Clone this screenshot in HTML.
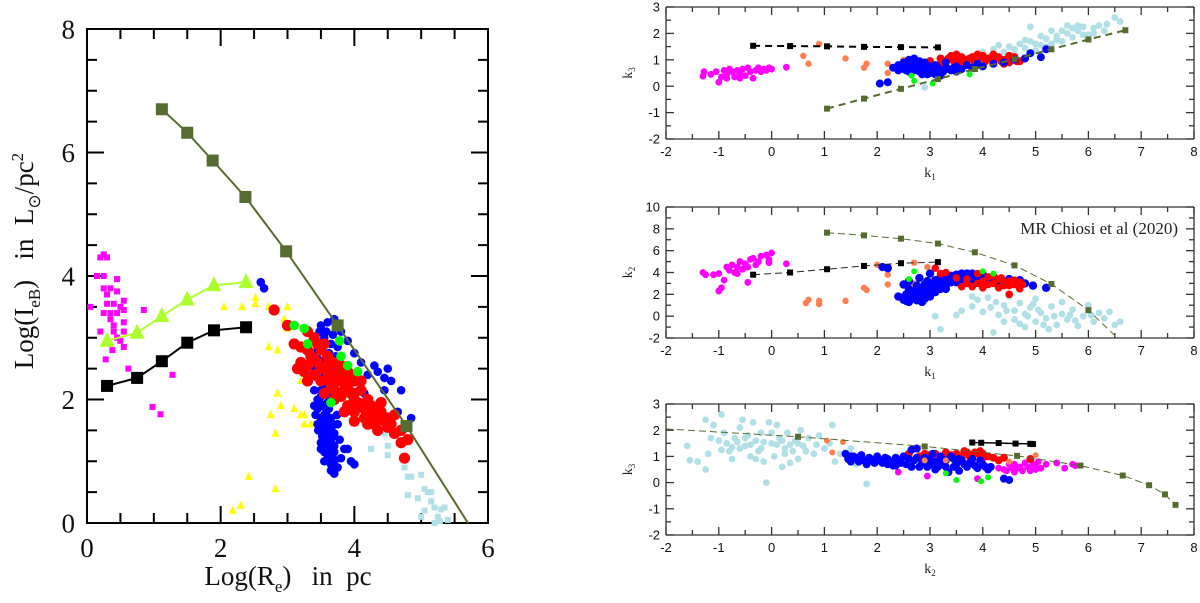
<!DOCTYPE html>
<html><head><meta charset="utf-8">
<style>
html,body{margin:0;padding:0;background:#fff;}
svg{display:block;}
text{white-space:pre;}
</style></head>
<body>
<svg id="chart" width="1200" height="603" viewBox="0 0 1200 603" xmlns="http://www.w3.org/2000/svg">
  <rect x="87" y="29" width="401" height="494" fill="none" stroke="#000" stroke-width="2"/>
  <g id="left"></g>
  <g id="p1"></g>
  <g id="p2"></g>
  <g id="p3"></g>
</svg>
<script>
// ===== Left panel data (Log Re, Log IeB) =====
const L_olive = [[1.12,6.7],[1.5,6.32],[1.88,5.87],[2.37,5.28],[2.98,4.4],[3.75,3.2],[4.78,1.57]];
const L_oliveEnd = [5.7,0];
const L_tri = [[0.3,2.95],[0.75,3.08],[1.12,3.35],[1.5,3.62],[1.9,3.85],[2.38,3.9]];
const L_black = [[0.3,2.22],[0.75,2.35],[1.12,2.62],[1.5,2.92],[1.9,3.12],[2.38,3.17]];
const L_magenta = [[0.05,3.5],[0.2,4.3],[0.25,4.35],[0.3,4.3],[0.15,4.0],[0.25,4.0],[0.25,3.8],[0.3,3.7],[0.35,3.8],[0.45,3.95],[0.3,3.55],[0.4,3.55],[0.5,3.5],[0.55,3.6],[0.45,3.75],[0.25,3.4],[0.35,3.4],[0.45,3.4],[0.55,3.45],[0.35,3.3],[0.4,3.2],[0.55,3.25],[0.4,3.1],[0.55,3.1],[0.2,3.1],[0.45,3.0],[0.5,2.95],[0.55,2.85],[0.38,2.8],[0.28,2.65],[0.85,3.45],[0.62,2.5],[0.75,2.3],[1.28,2.4],[0.98,1.88],[1.1,1.76]];
const L_yellow = [[2.05,3.5],[2.32,3.5],[2.52,3.65],[2.52,3.55],[2.72,3.5],[3.0,3.5],[2.95,3.3],[3.0,3.15],[2.72,2.85],[2.85,2.8],[3.2,2.5],[3.2,2.3],[2.85,2.1],[2.9,1.9],[2.75,1.75],[3.1,1.85],[3.2,1.75],[3.25,1.75],[3.25,1.6],[3.35,1.6],[2.82,1.45],[2.42,0.75],[2.82,0.55],[2.18,0.2],[2.3,0.28]];
const L_blue = [[3.5,3.2],[3.6,3.25],[3.7,3.3],[3.55,3.0],[3.65,2.9],[3.45,2.8],[3.75,2.85],[3.5,2.6],[3.6,2.55],[3.7,2.5],[3.45,2.35],[3.55,2.2],[3.65,2.25],[3.5,2.05],[3.6,1.95],[3.45,1.85],[3.55,1.75],[3.65,1.7],[3.5,1.55],[3.6,1.5],[3.7,1.45],[3.55,1.35],[3.65,1.3],[3.5,1.2],[3.6,1.1],[3.7,1.15],[3.55,1.0],[3.65,0.95],[3.75,0.9],[3.7,0.8],[3.85,1.2],[3.45,1.6],[3.4,1.9],[3.62,1.85],[3.52,1.4],[3.58,1.22],[3.48,2.5],[3.4,2.15],[3.58,1.62],[3.68,1.05],[3.52,1.9],[3.62,1.4],[2.6,3.9],[2.65,3.8],[4.15,2.1],[4.3,2.55],[4.35,2.45],[4.5,2.5],[4.45,2.35],[4.55,2.3],[4.45,2.15],[4.7,2.15],[4.65,1.8],[4.85,1.7],[3.8,3.1],[3.9,2.95],[4.0,2.75],[4.1,2.6],[4.2,2.4],[3.9,1.2],[3.95,1.0],[4.0,0.95],
 [3.48,3.1],[3.58,3.1],[3.68,3.05],[3.52,2.9],[3.62,2.75],[3.72,2.7],[3.46,2.65],[3.56,2.4],[3.66,2.35],[3.5,2.15],[3.6,2.1],[3.7,2.05],[3.48,1.95],[3.58,1.8],[3.68,1.6],[3.5,1.7],[3.46,1.5],[3.56,1.45],[3.66,1.55],[3.5,1.3],[3.6,1.3],[3.7,1.25],[3.55,1.15],[3.63,1.18],[3.6,1.02],[3.7,1.0],[3.8,1.05],[3.65,0.85],[3.42,1.75],[3.45,2.0],[3.4,2.5],[3.75,1.6],[3.78,1.35],[3.54,1.58],[3.64,2.0],[3.56,2.62],[3.66,1.38],[3.74,1.75]];
const L_red = [[2.8,3.45],[3.0,3.2],[3.1,2.9],[3.2,2.85],[3.15,2.5],[3.3,3.1],[3.4,3.0],[3.35,2.7],[3.45,2.6],[3.5,2.8],[3.6,2.7],[3.4,2.4],[3.5,2.3],[3.6,2.45],[3.7,2.6],[3.8,2.55],[3.55,2.1],[3.65,2.2],[3.75,2.3],[3.85,2.35],[3.9,2.2],[3.7,2.0],[3.8,2.05],[4.0,2.3],[4.0,2.0],[4.1,2.15],[3.9,1.9],[4.0,1.8],[4.1,1.9],[4.2,2.0],[4.2,1.75],[4.3,1.85],[4.4,1.8],[4.3,1.6],[4.5,1.7],[4.6,1.75],[4.5,1.55],[4.2,1.6],[4.0,1.65],[3.85,1.8],[4.7,1.5],[4.7,1.3],[4.75,1.05],[4.8,1.35],[4.35,1.5],[3.6,2.55],[3.3,2.3],[3.2,2.6],[3.7,2.4],[3.95,2.4],[4.15,1.7],[4.4,1.95],[3.55,2.9],[3.25,2.45],
 [3.3,2.8],[3.45,2.9],[3.5,2.5],[3.6,2.35],[3.75,2.45],[3.85,2.15],[3.95,2.1],[4.05,1.95],[4.15,1.85],[4.25,1.9],[4.35,1.7],[4.45,1.65],[4.55,1.6],[4.6,1.45],[3.7,2.15],[3.9,2.45],[4.1,2.3],[3.4,2.65],[3.3,2.55],[3.8,2.3],[4.0,2.1],[4.25,1.7]];
const L_green = [[3.1,3.2],[3.25,3.15],[3.78,2.95],[3.8,2.7],[3.9,2.55],[4.05,2.45],[3.3,2.9],[3.65,1.95]];
const L_lblue = [[4.35,1.5],[4.45,1.45],[4.25,1.2],[4.5,1.25],[4.5,1.1],[4.75,0.9],[4.8,0.75],[4.85,0.75],[5.0,0.78],[5.05,0.55],[5.1,0.5],[5.15,0.5],[4.8,0.45],[4.95,0.4],[5.15,0.35],[5.2,0.25],[5.3,0.22],[5.35,0.25],[5.05,0.2],[5.25,0.1],[5.0,0.1],[5.4,0.05],[5.2,0.0],[5.28,0.03]];
const L_xticks = ["0","2","4","6"];
const L_yticks = ["0","2","4","6","8"];

// ===== Panel 1 (k1, k3) =====
const P1_black = [[-0.35,1.53],[0.35,1.52],[1.05,1.51],[1.75,1.49],[2.45,1.48],[3.15,1.47]];
const P1_olive = [[1.05,-0.85],[1.75,-0.47],[2.45,-0.1],[3.15,0.27],[3.85,0.65],[4.6,1.02],[5.3,1.4],[6.0,1.77],[6.7,2.12]];
const P1_magenta = [[-1.3,0.38],[-1.28,0.55],[-1.15,0.45],[-1.05,0.55],[-1.0,0.15],[-0.95,0.35],[-0.9,0.6],[-0.85,0.45],[-0.8,0.65],[-0.75,0.55],[-0.7,0.35],[-0.65,0.6],[-0.6,0.5],[-0.55,0.65],[-0.5,0.4],[-0.45,0.7],[-0.4,0.55],[-0.35,0.3],[-0.3,0.6],[-0.25,0.7],[-0.2,0.55],[-0.15,0.65],[-0.1,0.6],[-0.05,0.7],[0.0,0.65],[0.28,0.72],[-0.85,0.3],[-0.6,0.3]];
const P1_orange = [[0.9,1.6],[0.6,1.15],[0.7,0.85],[1.4,1.05],[1.75,0.7],[1.8,0.85],[2.2,0.5],[2.2,0.85],[2.5,1.0]];
const P1_blue = [[2.05,0.1],[2.2,0.15],[2.3,0.7],[2.4,0.8],[2.5,0.9],[2.6,1.0],[2.7,1.05],[2.5,0.65],[2.6,0.75],[2.7,0.85],[2.8,0.95],[2.9,0.9],[2.6,0.55],[2.7,0.6],[2.8,0.7],[2.9,0.65],[3.0,0.75],[3.0,0.5],[3.1,0.45],[3.2,0.6],[2.85,0.45],[3.1,0.8],[3.3,0.7],[3.4,0.6],[3.5,0.75],[3.6,0.65],[3.7,0.8],[3.8,0.7],[3.9,0.85],[4.0,0.75],[4.2,0.85],[4.4,0.9],[4.6,1.0],[4.8,1.05],[4.9,1.25],[5.1,1.1],[5.2,1.4],[3.3,0.9],[3.5,0.55],[3.2,0.4],[2.4,0.6],[2.9,0.55],[3.05,0.65],
 [2.45,0.75],[2.55,0.85],[2.65,0.9],[2.75,0.75],[2.85,0.8],[2.95,0.75],[3.05,0.55],[3.15,0.7],[2.7,0.7],[2.55,0.6],[3.25,0.55],[3.35,0.65],[2.8,0.55],[2.95,0.45],[3.45,0.7]];
const P1_red = [[3.0,0.95],[3.2,1.05],[3.3,0.95],[3.4,1.15],[3.5,1.0],[3.6,1.1],[3.7,0.95],[3.8,1.1],[3.9,1.0],[4.0,1.15],[4.1,1.05],[4.2,0.95],[4.3,1.1],[4.4,1.0],[4.5,0.9],[4.6,1.1],[4.7,0.95],[4.8,1.05],[3.5,1.2],[3.9,1.2],[4.2,1.2],[4.5,1.15],[3.2,0.85],[3.6,0.85],[4.4,0.85],
 [3.35,1.05],[3.45,0.95],[3.55,1.05],[3.75,1.05],[3.85,0.9],[3.95,1.1],[4.05,0.95],[4.25,1.05],[4.35,0.95],[4.55,1.0],[4.65,0.95],[3.65,1.0]];
const P1_lblue = [[2.9,-0.05],[4.0,1.3],[4.2,1.4],[4.3,1.55],[4.4,1.3],[4.5,1.5],[4.6,1.2],[4.7,1.6],[4.8,1.45],[4.9,1.7],[5.0,1.35],[5.1,1.55],[5.2,1.8],[5.3,1.6],[5.4,1.9],[5.5,1.7],[5.6,2.0],[5.6,2.3],[5.7,1.85],[5.8,2.1],[5.9,2.25],[6.0,1.95],[6.1,2.2],[6.2,2.3],[6.35,2.35],[6.5,2.6],[6.6,2.45],[4.9,2.25],[5.3,2.1],[5.8,2.3],[4.5,1.1],
 [5.0,1.6],[5.2,1.5],[5.4,1.75],[5.5,2.1],[5.7,2.2],[5.9,1.95],[6.1,2.0],[6.3,2.1],[4.6,1.4],[4.8,1.75],[5.1,1.9]];
const P1_green = [[2.65,0.4],[2.7,0.2],[3.05,0.1],[3.75,0.45]];

// ===== Panel 2 (k1, k2) =====
const P2_black = [[-0.35,3.8],[0.35,4.0],[1.05,4.3],[1.75,4.6],[2.45,4.85],[3.15,4.95]];
const P2_olive = [[1.05,7.65],[1.75,7.4],[2.45,7.1],[3.15,6.65],[3.85,5.85],[4.6,4.65],[5.3,2.95],[6.0,0.55]];
const P2_oliveEnd = [6.55,-2];
const P2_magenta = [[-1.3,4.0],[-1.25,3.8],[-1.1,3.8],[-1.0,3.9],[-1.0,2.3],[-0.95,2.6],[-0.9,3.3],[-0.85,4.5],[-0.8,4.2],[-0.75,4.7],[-0.7,4.0],[-0.65,4.5],[-0.6,5.0],[-0.55,4.3],[-0.5,4.8],[-0.45,4.5],[-0.4,5.2],[-0.35,5.3],[-0.3,4.7],[-0.25,5.0],[-0.2,5.5],[-0.1,5.6],[-0.05,5.2],[0.0,5.8],[-0.05,4.9],[-0.45,3.1],[-0.65,3.9],[0.28,4.8]];
const P2_orange = [[0.65,1.2],[0.7,1.5],[0.9,1.4],[0.9,1.1],[1.4,1.4],[1.75,2.6],[1.8,2.4],[2.0,4.7],[2.2,3.8],[2.2,2.9],[2.7,4.9],[2.95,4.5],[2.7,3.0]];
const P2_blue = [[2.1,4.5],[2.2,4.4],[2.4,1.8],[2.5,1.5],[2.55,2.0],[2.6,2.5],[2.7,1.6],[2.7,2.2],[2.75,2.8],[2.8,1.5],[2.9,2.0],[2.9,2.6],[2.95,3.2],[3.0,2.3],[3.0,1.8],[3.1,2.7],[3.1,3.3],[3.2,2.5],[3.2,3.6],[3.3,3.0],[3.35,3.7],[3.4,3.4],[3.5,3.8],[3.5,3.1],[3.6,3.6],[3.7,3.9],[3.7,3.3],[3.8,3.6],[3.9,3.8],[4.0,3.5],[4.1,3.3],[4.2,3.6],[4.3,3.2],[4.5,3.4],[4.7,3.3],[4.8,3.0],[4.95,2.8],[5.2,2.6],[2.6,3.2],[2.8,3.5],[3.0,3.9],[2.5,2.9],[2.85,1.3],[2.6,1.3],[3.3,2.5],[2.65,1.9],[2.85,2.4],[3.05,2.9],[3.25,3.3],
 [2.5,1.7],[2.6,1.6],[2.7,1.9],[2.8,1.8],[2.8,2.2],[2.9,1.6],[3.0,2.1],[3.0,2.6],[3.1,2.2],[3.1,3.0],[3.2,2.9],[3.2,3.2],[3.3,3.4],[3.3,2.8],[3.4,3.1],[3.4,3.7],[3.5,3.4],[3.6,3.2],[3.6,3.9],[3.7,3.6],[3.8,3.3],[3.8,3.9],[3.9,3.5],[4.0,3.8],[2.55,1.4],[2.65,2.3],[2.75,1.45],[2.9,2.9],[3.25,2.7],[3.45,3.5]];
const P2_red = [[3.1,4.4],[3.3,4.0],[3.5,3.5],[3.7,3.0],[3.8,2.7],[4.0,3.2],[4.1,2.9],[4.2,3.7],[4.3,2.6],[4.4,3.1],[4.5,2.8],[4.6,3.3],[4.7,2.5],[4.75,2.9],[4.5,2.0],[4.0,2.6],[3.6,2.7],[3.9,3.9],[4.35,3.5],[3.2,3.9],
 [3.9,3.0],[4.0,2.8],[4.2,3.0],[4.3,3.4],[4.4,2.8],[4.6,2.9],[4.7,3.1],[3.7,3.4],[4.1,3.6],[4.5,3.2]];
const P2_lblue = [[3.1,0],[3.5,0.1],[3.6,0.5],[3.8,0.9],[3.9,1.5],[4.0,0.4],[4.1,1.7],[4.2,-1.5],[4.3,0.1],[4.4,1.0],[4.4,-0.5],[4.5,1.8],[4.6,0.5],[4.6,-0.3],[4.7,1.2],[4.8,-1.0],[4.8,0.2],[4.9,0.8],[5.0,-0.5],[5.0,1.6],[5.1,0.3],[5.2,-0.2],[5.3,0.9],[5.4,-0.8],[5.5,0.2],[5.5,1.3],[5.6,-0.3],[5.7,0.6],[5.8,-0.9],[5.9,0.0],[6.0,1.0],[6.1,-0.5],[6.2,0.3],[6.3,-0.2],[6.4,0.4],[6.5,-0.8],[6.6,-0.5],[3.2,-1.2],[3.8,1.8],[4.15,0.8],[4.7,-0.7],[5.25,-1.2],
 [4.45,0.5],[4.85,0.0],[5.05,0.6],[5.35,0.0],[5.65,0.1],[4.95,1.1],[4.25,1.3],[5.15,-0.8],[5.75,-0.4],[6.05,0.1]];
const P2_green = [[2.7,4.1],[2.6,3.4],[4.0,4.1],[4.2,3.9]];

// ===== Panel 3 (k2, k3) =====
const P3_black = [[3.8,1.53],[3.97,1.52],[4.3,1.51],[4.62,1.49],[4.9,1.48],[4.95,1.47]];
const P3_olive = [[0.5,1.75],[2.9,1.38],[4.65,1.02],[5.85,0.65],[6.65,0.27],[7.15,-0.1],[7.45,-0.45],[7.65,-0.85]];
const P3_oliveStart = [-2,2.05];
const P3_lblue = [[-1.6,1.4],[-1.55,0.85],[-1.4,0.8],[-1.25,2.4],[-1.25,0.5],[-1.2,1.1],[-1.15,1.7],[-1.1,2.2],[-0.95,2.6],[-0.9,1.9],[-0.85,1.5],[-0.8,1.2],[-0.75,0.9],[-0.7,1.7],[-0.6,2.1],[-0.55,2.4],[-0.5,1.4],[-0.45,1.8],[-0.4,1.0],[-0.35,2.3],[-0.3,1.6],[-0.25,1.2],[-0.2,1.9],[-0.15,0.8],[-0.1,0.0],[-0.05,2.3],[0.0,1.5],[0.05,1.0],[0.1,2.2],[0.15,1.7],[0.2,0.6],[0.25,1.3],[0.3,1.9],[0.4,1.2],[0.45,1.6],[0.5,0.9],[0.55,2.0],[0.6,1.4],[0.7,1.7],[0.8,1.1],[0.9,1.8],[1.0,1.3],[1.1,1.5],[1.15,2.2],[1.2,0.8],[1.3,1.1],[1.5,1.3],[1.6,0.7],[1.8,-0.05],[-0.6,1.3],[-0.3,0.9],[0.35,0.75],[-1.0,1.6],[0.0,1.9],
 [-0.65,1.55],[-0.4,1.45],[-0.15,1.55],[0.1,1.45],[0.35,1.45],[0.65,1.2],[-0.75,1.35],[-0.5,1.7],[-0.2,1.3],[0.2,1.6],[0.5,1.5],[0.85,1.45],[-0.95,1.25],[0.25,1.1]];
const P3_blue = [[1.4,1.1],[1.5,0.8],[1.6,0.95],[1.7,1.05],[1.8,0.7],[1.9,0.85],[2.0,1.0],[2.1,0.75],[2.2,0.9],[2.3,0.65],[2.4,0.85],[2.5,1.0],[2.55,0.7],[2.65,1.25],[2.7,0.85],[2.8,0.6],[2.9,0.95],[3.0,0.7],[3.05,1.1],[3.1,0.5],[3.2,0.85],[3.3,0.6],[3.4,1.0],[3.5,0.7],[3.55,0.45],[3.6,0.85],[3.7,0.6],[3.8,0.9],[3.9,0.55],[4.0,0.7],[4.1,0.5],[4.15,0.6],[4.4,0.15],[4.5,0.1],[2.75,1.3],[2.2,0.7],[1.75,0.85],[3.35,0.4],[3.0,0.9],[1.55,1.0],[2.05,0.85],[2.45,0.75],[2.85,0.75],[3.25,0.7],[3.65,0.7],
 [1.5,1.0],[1.65,0.8],[1.85,0.95],[1.95,0.75],[2.15,0.95],[2.25,0.8],[2.35,0.95],[2.6,0.9],[2.65,0.6],[2.75,0.95],[2.95,0.6],[3.1,0.8],[3.15,0.6],[3.3,0.85],[3.45,0.6],[3.55,0.9],[3.75,0.75],[3.85,0.65],[3.95,0.85],[4.05,0.6],[2.35,0.65],[3.2,1.0],[3.45,0.9],[1.45,0.9]];
const P3_red = [[2.6,1.1],[2.8,1.0],[3.0,1.05],[3.2,0.95],[3.3,1.15],[3.4,1.05],[3.5,1.1],[3.6,0.95],[3.7,1.15],[3.8,1.05],[3.9,1.1],[4.0,0.95],[4.1,1.0],[4.3,0.85],[4.4,0.95],[3.95,1.2],[4.9,0.9],[3.65,1.2],
 [2.9,1.1],[3.1,1.1],[3.35,1.0],[3.55,1.0],[3.75,1.0],[3.85,1.15],[4.2,0.95],[4.0,1.1]];
const P3_orange = [[1.05,1.6],[1.15,1.15],[1.35,1.55],[2.9,0.85],[4.5,0.8],[5.0,1.05],[3.3,0.85]];
const P3_magenta = [[2.4,0.4],[2.95,0.25],[3.9,0.15],[4.4,0.5],[4.5,0.7],[4.6,0.4],[4.7,0.6],[4.8,0.75],[4.9,0.45],[5.0,0.6],[5.05,0.8],[5.0,0.5],[5.2,0.7],[5.4,0.75],[5.55,0.55],[5.7,0.7],[5.75,0.65],[4.55,0.55],[4.75,0.45],[4.3,0.55],
 [4.45,0.45],[4.65,0.55],[4.85,0.6],[4.95,0.7],[5.1,0.55],[4.6,0.7]];
const P3_green = [[3.5,0.1],[3.97,0.05],[4.1,0.2],[3.3,0.35]];

const R_xticks = ["-2","-1","0","1","2","3","4","5","6","7","8"];
const P1_yticks = ["-2","-1","0","1","2","3"];
const P2_yticks = ["-2","0","2","4","6","8","10"];

const NS = "http://www.w3.org/2000/svg";
function mk(parent, tag, attrs, name){
  const e = document.createElementNS(NS, tag);
  for (const k in attrs) e.setAttribute(k, attrs[k]);
  
  
  parent.appendChild(e);
  return e;
}
function scale(d0,d1,r0,r1){ return v => r0 + (v-d0)*(r1-r0)/(d1-d0); }

function frame(g, X0,X1,Y0,Y1, sx, sy, xmin,xmax,xstep,xminor, ymin,ymax,ystep,yminor, tl, tlmin, xt, yt, fs, font, xoff, yoff, sw, col){
  for(let v=xmin; v<=xmax+1e-9; v+=xminor){
    const major = Math.abs(v/xstep - Math.round(v/xstep))<1e-6;
    const l = major?tl:tlmin; const x=sx(v);
    mk(g,'line',{x1:x,y1:Y0,x2:x,y2:Y0-l,stroke:col,'stroke-width':sw},'x-tick');
    mk(g,'line',{x1:x,y1:Y1,x2:x,y2:Y1+l,stroke:col,'stroke-width':sw},'x-tick-top');
  }
  for(let v=ymin; v<=ymax+1e-9; v+=yminor){
    const major = Math.abs(v/ystep - Math.round(v/ystep))<1e-6;
    const l = major?tl:tlmin; const y=sy(v);
    mk(g,'line',{x1:X0,y1:y,x2:X0+l,y2:y,stroke:col,'stroke-width':sw},'y-tick');
    mk(g,'line',{x1:X1,y1:y,x2:X1-l,y2:y,stroke:col,'stroke-width':sw},'y-tick-right');
  }
  mk(g,'line',{x1:X0,y1:Y0,x2:X1,y2:Y0,stroke:col,'stroke-width':sw},'x-axis-line');
  mk(g,'line',{x1:X0,y1:Y1,x2:X1,y2:Y1,stroke:col,'stroke-width':sw},'top-frame-line');
  mk(g,'line',{x1:X0,y1:Y0,x2:X0,y2:Y1,stroke:col,'stroke-width':sw},'y-axis-line');
  mk(g,'line',{x1:X1,y1:Y0,x2:X1,y2:Y1,stroke:col,'stroke-width':sw},'right-frame-line');
  xt.forEach(s=>{ const t=mk(g,'text',{x:sx(+s),y:Y0+xoff,'text-anchor':'middle','font-size':fs,'font-family':font,fill:'#111'},'x-tick-label'); t.textContent=s; });
  yt.forEach(s=>{ const t=mk(g,'text',{x:X0-yoff,y:sy(+s)+fs*0.35,'text-anchor':'end','font-size':fs,'font-family':font,fill:'#111'},'y-tick-label'); t.textContent=s; });
}
function dots(g, pts, sx, sy, r, color, name){
  pts.forEach(p=>{ mk(g,'circle',{cx:sx(p[0]),cy:sy(p[1]),r:r,fill:color},name); });
}
function squares(g, pts, sx, sy, s, color, name){
  pts.forEach(p=>{ mk(g,'rect',{x:sx(p[0])-s/2,y:sy(p[1])-s/2,width:s,height:s,fill:color},name); });
}
function tris(g, pts, sx, sy, s, color, name){
  pts.forEach(p=>{ const x=sx(p[0]), y=sy(p[1]);
    mk(g,'polygon',{points:`${x},${y-s*0.6} ${x-s/2},${y+s*0.4} ${x+s/2},${y+s*0.4}`,fill:color},name); });
}
function line(g, pts, sx, sy, color, w, dash, name){
  const d = pts.map((p,i)=>(i?'L':'M')+sx(p[0]).toFixed(1)+','+sy(p[1]).toFixed(1)).join(' ');
  const a={d:d,fill:'none',stroke:color,'stroke-width':w};
  if(dash) a['stroke-dasharray']=dash;
  mk(g,'path',a,name);
}

const OLIVE='#556b2f', LB='#b0e0e6', MAG='#ff00ff', ORA='#ff7f50', YG='#adff2f';

// ===== Left panel =====
(function(){
  const g=document.getElementById('left');
  const sx=scale(0,6,87,488), sy=scale(0,8,523,29);
  frame(g,87,488,523,29,sx,sy,0,6,2,0.5,0,8,2,0.5,17,10,L_xticks,L_yticks,27,'"Liberation Serif", serif',34,12,2,'#000');
  squares(g,L_magenta,sx,sy,6,MAG,'dwarf-point');
  squares(g,L_lblue,sx,sy,6,LB,'cluster-point');
  tris(g,L_yellow,sx,sy,8,'#ffff00','yellow-triangle');
  dots(g,L_blue,sx,sy,4.3,'#0000ff','blue-point');
  dots(g,L_red,sx,sy,5.6,'#ff0000','red-point');
  dots(g,L_green,sx,sy,4.8,'#00ff00','green-point');
  line(g,L_olive.concat([L_oliveEnd]),sx,sy,OLIVE,2,null,'olive-line');
  squares(g,L_olive,sx,sy,12,OLIVE,'olive-marker');
  line(g,L_tri,sx,sy,YG,2,null,'triangle-line');
  tris(g,L_tri,sx,sy,15,YG,'triangle-marker');
  line(g,L_black,sx,sy,'#000',2,null,'black-line');
  squares(g,L_black,sx,sy,12,'#000','black-marker');
  const xl=mk(g,'text',{x:288,y:585,'text-anchor':'middle','font-size':27,'font-family':'"Liberation Serif", serif',fill:'#111'},'x-axis-title');
  xl.innerHTML='Log(R<tspan font-size="17" dy="7">e</tspan><tspan dy="-7">)   in  pc</tspan>';
  const yl=mk(g,'text',{x:0,y:0,transform:'translate(33,261) rotate(-90)','text-anchor':'middle','font-size':27,'font-family':'"Liberation Serif", serif',fill:'#111'},'y-axis-title');
  yl.innerHTML='Log(I<tspan font-size="17" dy="7">eB</tspan><tspan dy="-7">)   in  L</tspan><tspan font-size="17" dy="7">⊙</tspan><tspan dy="-7">/pc</tspan><tspan font-size="17" dy="-10">2</tspan>';
})();

// ===== Right panels =====
const RF='"Liberation Sans", sans-serif', SF='"Liberation Serif", serif';
function rightPanel(id, Y0, Y1, ymin, ymax, ystep, yminor, yt, xlab, ylab){
  const g=document.getElementById(id);
  const sx=scale(-2,8,666,1194), sy=scale(ymin,ymax,Y0,Y1);
  frame(g,666,1194,Y0,Y1,sx,sy,-2,8,1,0.5,ymin,ymax,ystep,yminor,8,5,R_xticks,yt,13,RF,17,6,1.3,'#333');
  const xl=mk(g,'text',{x:930,y:Y0+38,'text-anchor':'middle','font-size':14,'font-family':SF,fill:'#222'},'x-axis-title');
  xl.innerHTML='k<tspan font-size="9" dy="3">'+xlab+'</tspan>';
  const yl=mk(g,'text',{x:0,y:0,transform:`translate(632,${(Y0+Y1)/2}) rotate(-90)`,'text-anchor':'middle','font-size':14,'font-family':SF,fill:'#222'},'y-axis-title');
  yl.innerHTML='k<tspan font-size="9" dy="3">'+ylab+'</tspan>';
  return {g,sx,sy};
}
(function(){
  const {g,sx,sy}=rightPanel('p1',139,7,-2,3,1,0.5,P1_yticks,'1','3');
  dots(g,P1_magenta,sx,sy,3.4,MAG,'dwarf-point');
  dots(g,P1_orange,sx,sy,3.2,ORA,'orange-point');
  dots(g,P1_lblue,sx,sy,3.4,LB,'cluster-point');
  dots(g,P1_red,sx,sy,4,'#ff0000','red-point');
  dots(g,P1_blue,sx,sy,4,'#0000ff','blue-point');
  dots(g,P1_green,sx,sy,3,'#00ff00','green-point');
  line(g,P1_black,sx,sy,'#000',2,'7,5','black-dashed-line');
  squares(g,P1_black,sx,sy,6,'#000','black-marker');
  line(g,P1_olive,sx,sy,OLIVE,2,'7,5','olive-dashed-line');
  squares(g,P1_olive,sx,sy,6,OLIVE,'olive-marker');
})();
(function(){
  const {g,sx,sy}=rightPanel('p2',338,207,-2,10,2,1,P2_yticks,'1','2');
  dots(g,P2_magenta,sx,sy,3.4,MAG,'dwarf-point');
  dots(g,P2_orange,sx,sy,3.2,ORA,'orange-point');
  dots(g,P2_lblue,sx,sy,3.4,LB,'cluster-point');
  dots(g,P2_blue,sx,sy,4.2,'#0000ff','blue-point');
  dots(g,P2_red,sx,sy,3.8,'#ff0000','red-point');
  dots(g,P2_green,sx,sy,3,'#00ff00','green-point');
  line(g,P2_black,sx,sy,'#222',1,'7,4','black-dashed-line');
  squares(g,P2_black,sx,sy,6,'#000','black-marker');
  line(g,P2_olive.concat([P2_oliveEnd]),sx,sy,OLIVE,1,'7,4','olive-dashed-line');
  squares(g,P2_olive,sx,sy,6,OLIVE,'olive-marker');
  const t=mk(g,'text',{x:1178,y:234,'text-anchor':'end','font-size':17,'font-family':SF,fill:'#222'},'annotation');
  t.textContent='MR Chiosi et al (2020)';
})();
(function(){
  const {g,sx,sy}=rightPanel('p3',535,404,-2,3,1,0.5,P1_yticks,'2','3');
  dots(g,P3_lblue,sx,sy,3.4,LB,'cluster-point');
  dots(g,P3_magenta,sx,sy,3.4,MAG,'dwarf-point');
  dots(g,P3_red,sx,sy,4,'#ff0000','red-point');
  dots(g,P3_blue,sx,sy,4,'#0000ff','blue-point');
  dots(g,P3_orange,sx,sy,3,ORA,'orange-point');
  dots(g,P3_green,sx,sy,3,'#00ff00','green-point');
  line(g,[P3_oliveStart].concat(P3_olive),sx,sy,OLIVE,1,'7,4','olive-dashed-line');
  squares(g,P3_olive,sx,sy,6,OLIVE,'olive-marker');
  line(g,P3_black,sx,sy,'#000',1.5,null,'black-line');
  squares(g,P3_black,sx,sy,6,'#000','black-marker');
})();
</script>
</body></html>
